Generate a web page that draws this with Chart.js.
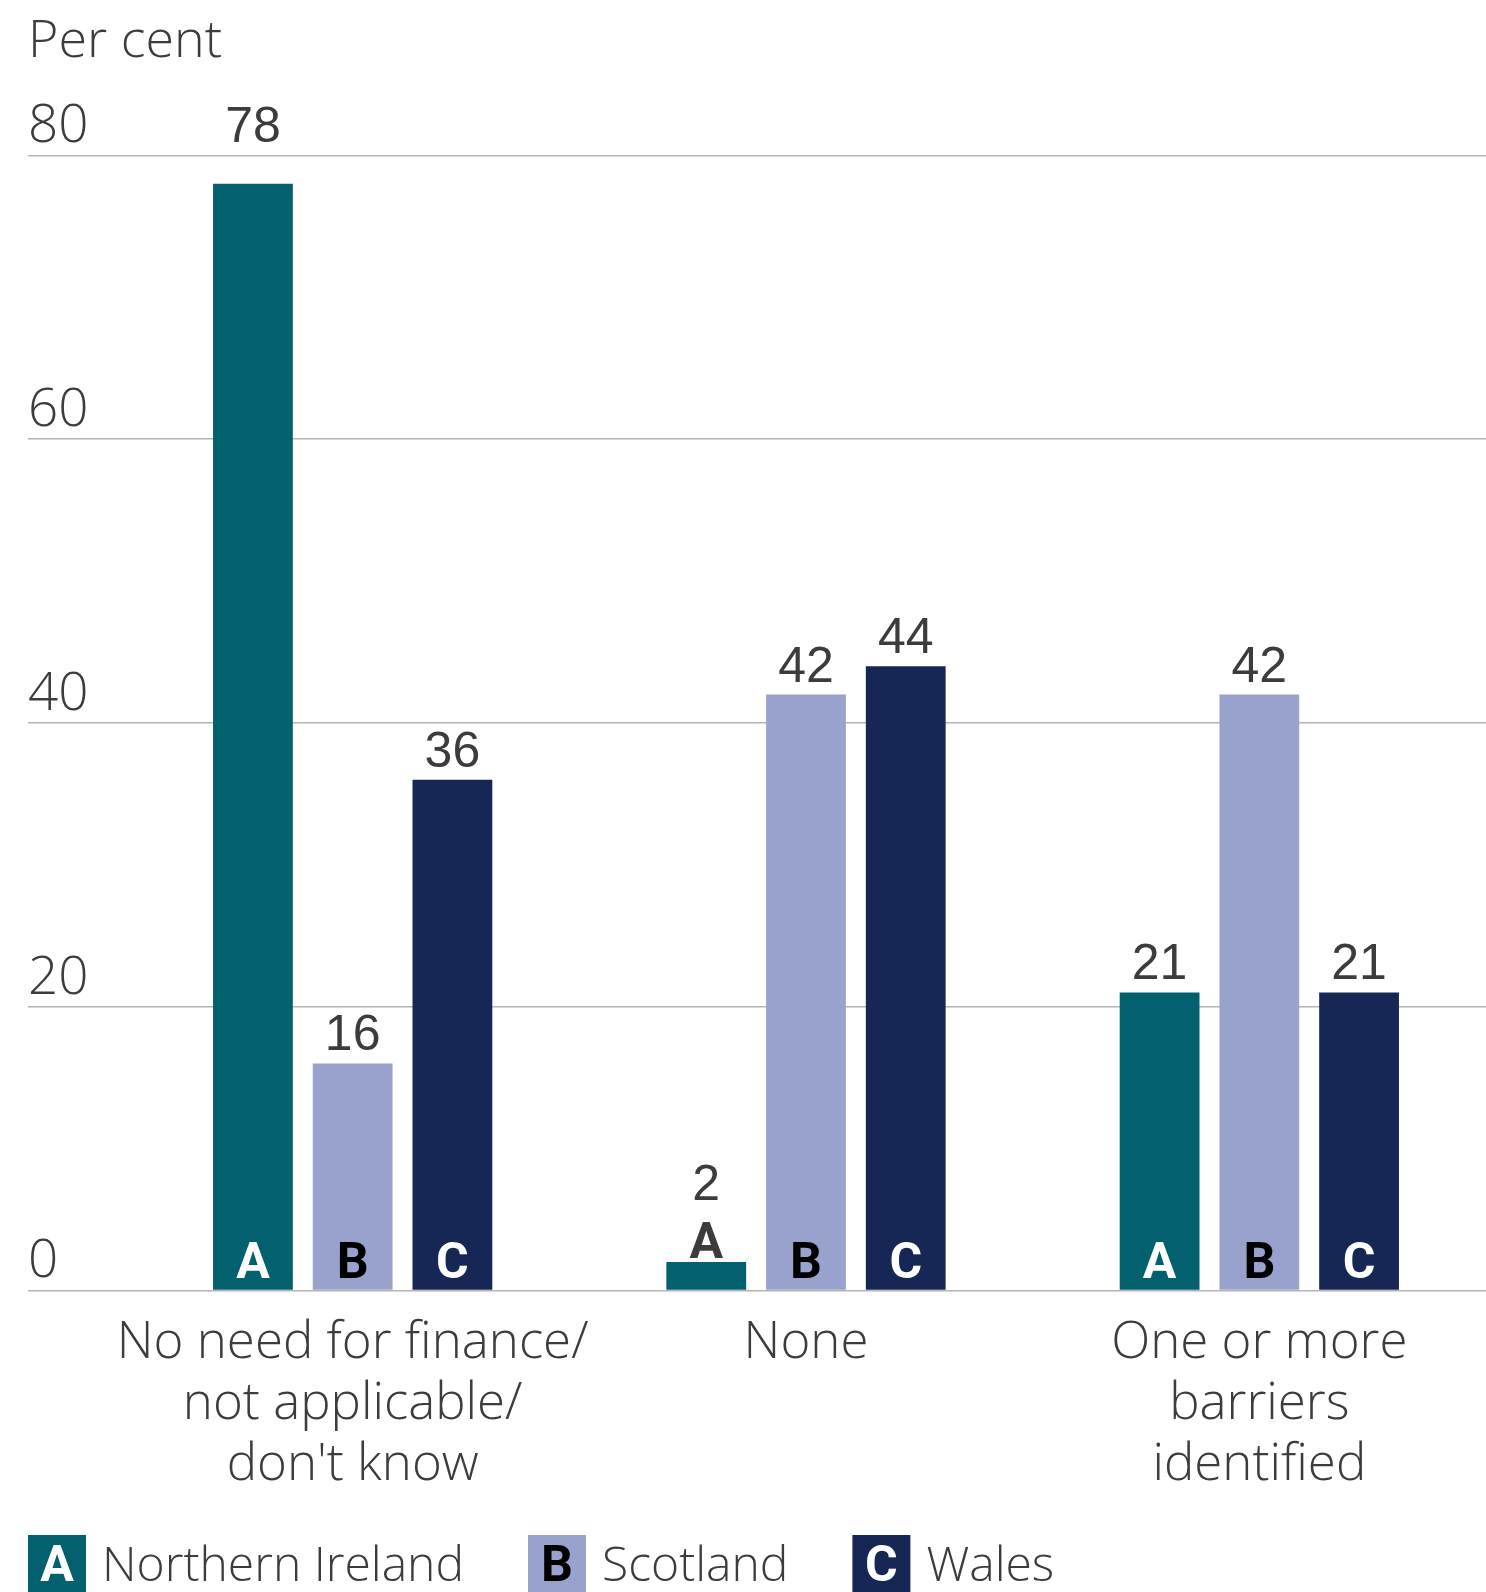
<!DOCTYPE html>
<html>
<head>
<meta charset="utf-8">
<script src="https://cdn.jsdelivr.net/npm/chart.js@4/dist/chart.umd.min.js"></script>
<style>
  html, body { margin: 0; padding: 0; background: #fff; }
</style>
</head>
<body>
<canvas id="chart" width="1486" height="1592"></canvas>
<script>
// data
const categories = [
    ['No need for finance/', 'not applicable/', "don't know"],
    'None',
    ['One or more', 'barriers', 'identified']
];
const seriesNames = ['Northern Ireland', 'Scotland', 'Wales'];
const seriesLetters = ['A', 'B', 'C'];
const northernIreland = [78, 2, 21];
const scotland = [16, 42, 42];
const wales = [36, 44, 21];
const yTicks = [0, 20, 40, 60, 80];

// styles
const barColors = ['#03606f', '#98a2cd', '#172755'];
const letterColors = ['#ffffff', '#000000', '#ffffff'];
const textColor = '#3c3c3c';
const gridColor = '#b4b4b4';
const lightFont = '"Open Sans", Roboto, sans-serif';
const letterFont = 'bold 50px "Liberation Sans Narrow", Roboto, sans-serif';
const valueFont = '50px "Liberation Sans", Arial, sans-serif';

// letters inside the bars (or just above short ones) and the values on top
const barLabels = {
    id: 'barLabels',
    afterDatasetsDraw(chart) {
        const ctx = chart.ctx;
        const top = chart.chartArea.top;
        chart.data.datasets.forEach((ds, i) => {
            const meta = chart.getDatasetMeta(i);
            meta.data.forEach((bar, j) => {
                const h = bar.base - bar.y;
                ctx.save();
                ctx.textAlign = 'center';
                ctx.textBaseline = 'alphabetic';
                ctx.font = letterFont;
                let valueBase = bar.y - 13;
                if (h > 60) {
                    ctx.fillStyle = letterColors[i];
                    ctx.fillText(seriesLetters[i], bar.x, bar.base - 12);
                } else {
                    ctx.fillStyle = textColor;
                    ctx.fillText(seriesLetters[i], bar.x, bar.y - 4);
                    valueBase = bar.y - 4 - 58;
                }
                // label would cut the top gridline -> lift it above
                if (valueBase - 37 < top + 4 && valueBase > top - 8) valueBase = top - 13;
                ctx.font = valueFont;
                ctx.fillStyle = textColor;
                ctx.fillText(String(ds.data[j]), bar.x, valueBase);
                ctx.restore();
            });
        });
    }
};

// legend with lettered boxes
const letterLegend = {
    id: 'letterLegend',
    afterDraw(chart) {
        const ctx = chart.ctx;
        const size = 58;
        const y = chart.height - size + 1;
        let x = 28;
        chart.data.datasets.forEach((ds, i) => {
            ctx.save();
            ctx.fillStyle = barColors[i];
            ctx.fillRect(x, y, size, size);
            ctx.font = letterFont;
            ctx.textAlign = 'center';
            ctx.textBaseline = 'alphabetic';
            ctx.fillStyle = letterColors[i];
            ctx.fillText(seriesLetters[i], x + size / 2, y + 46);
            ctx.font = '300 48px ' + lightFont;
            ctx.textAlign = 'left';
            ctx.fillStyle = textColor;
            const tx = x + size + 16;
            ctx.fillText(ds.label, tx, y + 46);
            x = tx + ctx.measureText(ds.label).width + 64;
            ctx.restore();
        });
    }
};

const ctx = document.getElementById('chart').getContext('2d');
new Chart(ctx, {
    type: 'bar',
    data: {
        labels: categories,
        datasets: [northernIreland, scotland, wales].map((values, i) => ({
            label: seriesNames[i],
            data: values,
            backgroundColor: barColors[i],
            categoryPercentage: 0.66,
            barPercentage: 0.8
        }))
    },
    options: {
        responsive: false,
        animation: false,
        layout: { padding: { left: 28, right: 0, top: 0, bottom: 82 } },
        plugins: {
            legend: { display: false },
            tooltip: { enabled: false },
            title: {
                display: true,
                text: 'Per cent',
                align: 'start',
                color: textColor,
                font: { family: lightFont, size: 52, weight: 300, lineHeight: 1.2 },
                padding: { top: 11, bottom: 82 }
            }
        },
        scales: {
            x: {
                grid: { display: false },
                border: { display: false },
                ticks: {
                    color: textColor,
                    padding: 14,
                    maxRotation: 0,
                    autoSkip: false,
                    font: { family: lightFont, size: 51, weight: 300, lineHeight: 1.2 }
                }
            },
            y: {
                min: 0,
                max: 80,
                afterFit(scale) { scale.width = 98; },
                afterBuildTicks(scale) { scale.ticks = yTicks.map(v => ({ value: v })); },
                grid: { color: gridColor, lineWidth: 1.5, tickLength: 98, drawTicks: true },
                border: { display: false },
                ticks: {
                    color: textColor,
                    crossAlign: 'far',
                    padding: 0,
                    labelOffset: -28,
                    font: { family: lightFont, size: 53, weight: 300 }
                }
            }
        }
    },
    plugins: [barLabels, letterLegend]
});
</script>
</body>
</html>
